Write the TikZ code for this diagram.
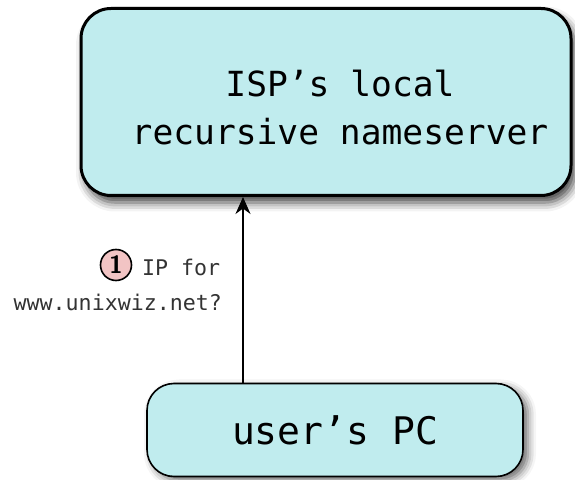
\documentclass[tikz,border=0pt]{standalone}
\usepackage{fontspec}
\setmonofont{DejaVu Sans Mono}
\usetikzlibrary{shadows.blur,arrows.meta}
\definecolor{boxfill}{HTML}{C0ECEE}
\definecolor{stepfill}{HTML}{F2C4C4}
\tikzset{
  hostbox/.style={draw=black, fill=boxfill, rounded corners=30pt,
    inner sep=0pt, align=center, font=\ttfamily},
  stepmark/.style={circle, draw=black, line width=1.6pt, fill=stepfill,
    inner sep=0pt, minimum size=31pt,
    font=\sffamily\bfseries\fontsize{25}{25}\selectfont},
  query/.style={-{Stealth[length=17pt,width=15pt]}, line width=1.6pt},
  steptext/.style={font=\ttfamily\fontsize{21.6}{28}\selectfont, inner sep=0pt,
    text=black!80}
}
\begin{document}
\begin{tikzpicture}[x=1pt,y=1pt]
  \useasboundingbox (0,0) rectangle (575,479);
  % recursive nameserver
  \node[hostbox, line width=3pt, minimum width=490pt, minimum height=187pt,
        blur shadow={shadow xshift=4pt, shadow yshift=-7pt,
                     shadow blur radius=9pt, shadow opacity=75}]
    (isp) at (326,377) {};
  \node[font=\ttfamily\fontsize{34.6}{48}\selectfont, align=center]
    (isplabel) at (340,371) {ISP’s local\\recursive nameserver};
  % client machine
  \node[hostbox, line width=1.6pt, rounded corners=27pt,
        minimum width=376pt, minimum height=93pt,
        blur shadow={shadow xshift=5pt, shadow yshift=-4pt,
                     shadow blur radius=8pt, shadow opacity=60},
        font=\ttfamily\fontsize{38}{44}\selectfont]
    (pc) at (335,49) {user’s PC};
  % the query
  \coordinate (from) at (243,0 |- pc.north);
  \draw[query] (from) -- (from |- isp.south);
  % step label
  \node[stepmark] (s1) at (116,214) {1};
  \node[steptext, anchor=base west] (l1) at (142,203) {IP for};
  \node[steptext, anchor=base east] (l2) at (222,168) {www.unixwiz.net?};
\end{tikzpicture}
\end{document}
